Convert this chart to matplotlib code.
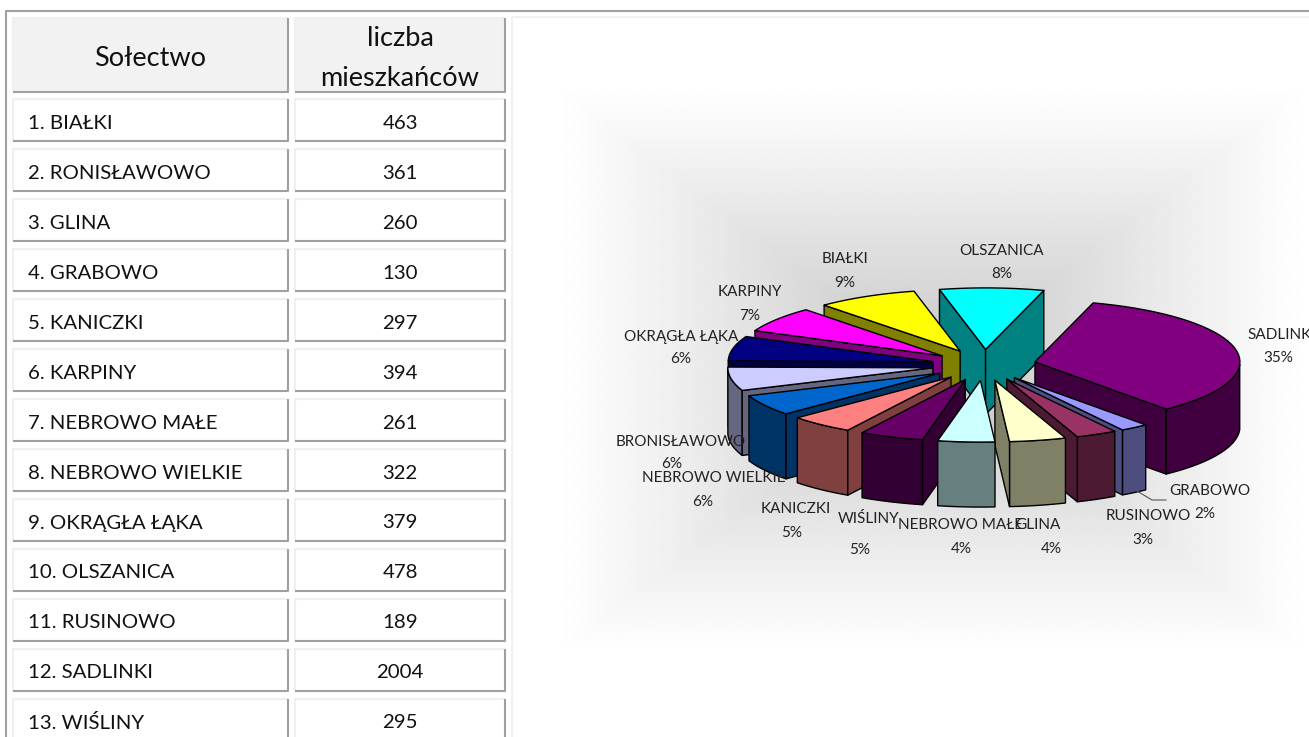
import numpy as np
import matplotlib
matplotlib.use('Agg')
import matplotlib.pyplot as plt
from matplotlib.patches import Polygon, Rectangle

plt.rcParams['font.family'] = ['Lato', 'DejaVu Sans']

# table
table_names = ['1. BIAŁKI', '2. RONISŁAWOWO', '3. GLINA', '4. GRABOWO', '5. KANICZKI',
               '6. KARPINY', '7. NEBROWO MAŁE', '8. NEBROWO WIELKIE', '9. OKRĄGŁA ŁĄKA',
               '10. OLSZANICA', '11. RUSINOWO', '12. SADLINKI', '13. WIŚLINY']
table_values = [463, 361, 260, 130, 297, 394, 261, 322, 379, 478, 189, 2004, 295]

# pie, clockwise starting from the big slice
pie_names = ['SADLINKI', 'GRABOWO', 'RUSINOWO', 'GLINA', 'NEBROWO MAŁE', 'WIŚLINY', 'KANICZKI',
             'NEBROWO WIELKIE', 'BRONISŁAWOWO', 'OKRĄGŁA ŁĄKA', 'KARPINY', 'BIAŁKI', 'OLSZANICA']
pie_values = [2004, 130, 189, 260, 261, 295, 297, 322, 361, 379, 394, 463, 478]
pie_pct = ['35%', '2%', '3%', '4%', '4%', '5%', '5%', '6%', '6%', '6%', '7%', '9%', '8%']
top_colors = ['#800080', '#9999FF', '#993366', '#FFFFCC', '#CCFFFF', '#660066', '#FF8080',
              '#0066CC', '#CCCCFF', '#000080', '#FF00FF', '#FFFF00', '#00FFFF']
side_colors = ['#400040', '#4D4D80', '#4D1A33', '#808066', '#668080', '#330033', '#804040',
               '#003366', '#666680', '#000040', '#800080', '#808000', '#008080']

# label layout in pixels: name x, name y, pct x, pct y
label_pos = [(1282, 335, 1278, 358), (1210, 491, 1205, 514), (1148, 516, 1143, 540),
             (1038, 525, 1051, 549), (961, 525, 961, 549), (869, 519, 860, 550),
             (796, 509, 792, 533), (714, 478, 703, 502), (681, 442, 672, 464),
             (681, 337, 681, 359), (750, 292, 750, 316), (845, 259, 845, 283),
             (1002, 251, 1002, 274)]

CX, CY = 984, 365
R, EXPLODE, H = 205, 52, 65
YS = 0.30
START = 16.5

fig = plt.figure(figsize=(13.09, 7.37), dpi=100)
ax = fig.add_axes([0, 0, 1, 1])
ax.set_xlim(0, 1309)
ax.set_ylim(737, 0)
ax.axis('off')


def cell(x0, y0, x1, y1, face='white'):
    ax.add_patch(Rectangle((x0, y0), x1 - x0, y1 - y0, fc=face, ec='none', zorder=1))
    ax.plot([x0, x0, x1], [y1, y0, y0], color='#efefef', lw=1.5, zorder=2, solid_capstyle='butt')
    ax.plot([x0, x1, x1], [y1, y1, y0], color='#a0a0a0', lw=1.5, zorder=2, solid_capstyle='butt')


def draw_table():
    ax.plot([1309, 6, 6], [11, 11, 737], color='#a0a0a0', lw=1.5, zorder=2)
    cell(13, 18, 288, 92, '#f2f2f2')
    cell(295, 18, 505, 92, '#f2f2f2')
    ax.text(150, 58, 'Sołectwo', ha='center', va='center', fontsize=19.5, color='#111111')
    ax.text(400, 38, 'liczba', ha='center', va='center', fontsize=19.5, color='#111111')
    ax.text(400, 78, 'mieszkańców', ha='center', va='center', fontsize=19.5, color='#111111')
    for i, (n, v) in enumerate(zip(table_names, table_values)):
        y0 = 99 + 50 * i
        cell(13, y0, 288, y0 + 42)
        cell(295, y0, 505, y0 + 42)
        ax.text(28, y0 + 24, n, ha='left', va='center', fontsize=14.7, color='#111111')
        ax.text(400, y0 + 24, str(v), ha='center', va='center', fontsize=14.7, color='#111111')


def draw_background():
    ax.plot([512, 512, 1309], [737, 17, 17], color='#efefef', lw=1.2, zorder=2)
    xs = np.linspace(-1, 1, 400)
    ys = np.linspace(-1, 1, 300)
    d = np.maximum(np.abs(xs)[None, :], np.abs(ys)[:, None])
    ax.imshow(1 - 0.23 * (1 - d) ** 1.1, extent=(555, 1309, 655, 85), cmap='gray', vmin=0, vmax=1,
              aspect='auto', zorder=1, interpolation='bilinear')
    ax.set_xlim(0, 1309)
    ax.set_ylim(737, 0)


def point(ang, r, off_x, off_y, z=0.0):
    a = np.radians(ang)
    x = CX + off_x + r * np.sin(a)
    y = CY + (off_y - r * np.cos(a)) * YS + z
    return x, y


def draw_pie():
    angles = START + np.concatenate([[0], np.cumsum(pie_values)]) / sum(pie_values) * 360.0
    mids = (angles[:-1] + angles[1:]) / 2
    # back slices first
    order = sorted(range(len(pie_values)), key=lambda k: -np.cos(np.radians(mids[k])))
    for z, k in enumerate(order):
        a0, a1 = angles[k], angles[k + 1]
        mid = np.radians(mids[k])
        ox, oy = EXPLODE * np.sin(mid), -EXPLODE * np.cos(mid)
        zo = 5 + z
        side = dict(fc=side_colors[k], ec='black', lw=1.0, joinstyle='round', zorder=zo)
        # outer wall, only the part turned to the viewer
        t = np.linspace(a0, a1, 40)
        t = t[np.cos(np.radians(t)) <= 0]
        if len(t) > 1:
            top = [point(a, R, ox, oy) for a in t]
            bot = [point(a, R, ox, oy, H) for a in t[::-1]]
            ax.add_patch(Polygon(top + bot, closed=True, **side))
        # cut faces
        apex_t, apex_b = point(0, 0, ox, oy), point(0, 0, ox, oy, H)
        for a, nrm in ((a0, a0 - 90), (a1, a1 + 90)):
            if -np.cos(np.radians(nrm)) > 0:
                ax.add_patch(Polygon([apex_t, point(a, R, ox, oy), point(a, R, ox, oy, H), apex_b],
                                     closed=True, **side))
        rim = [point(a, R, ox, oy) for a in np.linspace(a0, a1, 40)]
        ax.add_patch(Polygon([apex_t] + rim, closed=True, fc=top_colors[k], ec='black',
                             lw=1.0, joinstyle='round', zorder=zo + 0.5))


def draw_labels():
    for n, p, (x, y, px, py) in zip(pie_names, pie_pct, label_pos):
        ax.text(x, y, n, ha='center', va='center', fontsize=11, color='#222222', zorder=40)
        ax.text(px, py, p, ha='center', va='center', fontsize=11, color='#222222', zorder=40)
    ax.plot([1137, 1152, 1166], [491, 500, 500], color='#555555', lw=0.8, zorder=39)


draw_background()
draw_table()
draw_pie()
draw_labels()
fig.savefig('out.png', dpi=100)
